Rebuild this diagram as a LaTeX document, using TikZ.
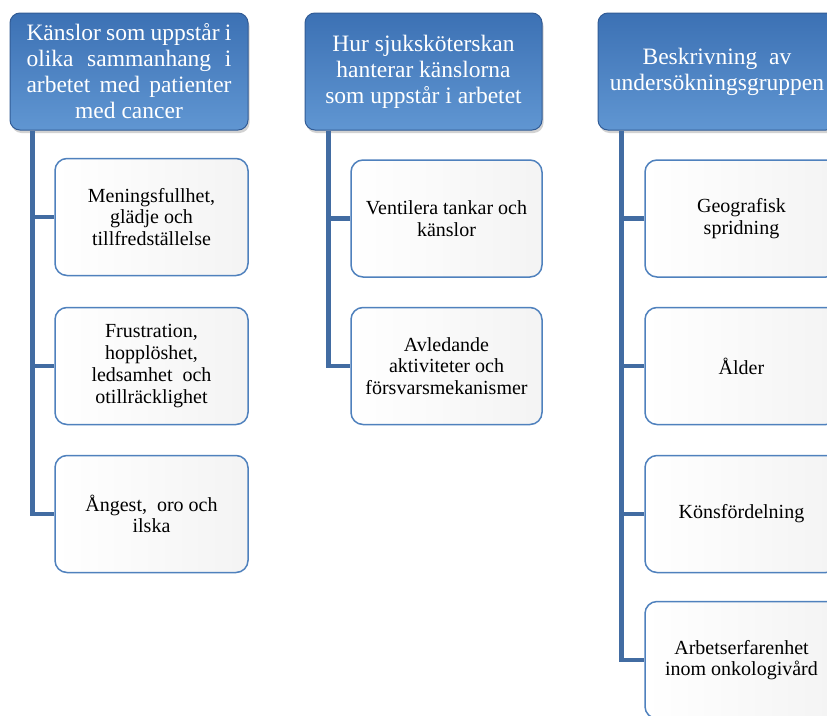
\documentclass[tikz,border=0pt]{standalone}
\usepackage{fontspec}
\setmainfont{Liberation Serif}
\usetikzlibrary{shadows,calc}
\definecolor{hdrtop}{RGB}{60,113,180}
\definecolor{hdrbot}{RGB}{96,150,210}
\definecolor{hdredge}{RGB}{50,92,150}
\definecolor{conncol}{RGB}{66,108,162}
\definecolor{childedge}{RGB}{79,129,189}
\begin{document}
\begin{tikzpicture}[x=1pt,y=-1pt,
  hdrbox/.style={rectangle, rounded corners=10pt, draw=hdredge, line width=1pt,
    top color=hdrtop, bottom color=hdrbot, minimum height=117pt, text=white,
    font=\fontsize{23.5}{26}\selectfont, align=center, inner sep=0pt,
    drop shadow={shadow xshift=1.5pt, shadow yshift=-3pt, opacity=0.35}},
  childbox/.style={rectangle, rounded corners=12pt, draw=childedge, line width=1.5pt,
    left color=white, right color=gray!9, minimum height=117pt, text=black,
    font=\fontsize{20}{21.7}\selectfont, align=center, inner sep=0pt},
  conn/.style={draw=conncol, line width=4.5pt}]
\useasboundingbox (0,0) rectangle (827,715);
\clip (0,0) rectangle (827,715);
\fill[white] (0,0) rectangle (827,715);

% headers
\node[hdrbox, minimum width=238pt] (h1) at (129,71.5)
  {\makebox[205pt][s]{Känslor som uppstår i}\\
   \makebox[205pt][s]{olika sammanhang i}\\
   \makebox[205pt][s]{arbetet med patienter}\\
   med cancer};
\node[hdrbox, minimum width=237pt] (h2) at (423.5,71.5)
  {Hur sjuksköterskan\\hanterar känslorna\\som uppstår i arbetet};
\node[hdrbox, minimum width=238pt] (h3) at (717,71.5)
  {Beskrivning\ \ av\\undersökningsgruppen};

% children column 1
\node[childbox, minimum width=193pt] (c11) at (151.5,217)
  {Meningsfullhet,\\glädje och\\tillfredställelse};
\node[childbox, minimum width=193pt] (c12) at (151.5,366)
  {Frustration,\\hopplöshet,\\ledsamhet\ \ och\\otillräcklighet};
\node[childbox, minimum width=193pt] (c13) at (151.5,514)
  {Ångest,\ \ oro och\\ilska};

% children column 2
\node[childbox, minimum width=191pt] (c21) at (446.5,218.5)
  {Ventilera tankar och\\känslor};
\node[childbox, minimum width=191pt] (c22) at (446.5,366)
  {Avledande\\aktiviteter och\\försvarsmekanismer};

% children column 3
\node[childbox, minimum width=193pt] (c31) at (741.5,218.5)
  {Geografisk\\spridning};
\node[childbox, minimum width=193pt] (c32) at (741.5,366)
  {Ålder};
\node[childbox, minimum width=193pt] (c33) at (741.5,514)
  {Könsfördelning};
\node[childbox, minimum width=193pt] (c34) at (741.5,660)
  {Arbetserfarenhet\\inom onkologivård};

% connectors
\coordinate (v1) at ([xshift=23pt]h1.south west);
\coordinate (v2) at ([xshift=24pt]h2.south west);
\coordinate (v3) at ([xshift=24pt]h3.south west);

\draw[conn] (v1) |- (c13.west);
\draw[conn] (c11.west) -- (c11.west -| v1);
\draw[conn] (c12.west) -- (c12.west -| v1);

\draw[conn] (v2) |- (c22.west);
\draw[conn] (c21.west) -- (c21.west -| v2);

\draw[conn] (v3) |- (c34.west);
\draw[conn] (c31.west) -- (c31.west -| v3);
\draw[conn] (c32.west) -- (c32.west -| v3);
\draw[conn] (c33.west) -- (c33.west -| v3);
\end{tikzpicture}
\end{document}
